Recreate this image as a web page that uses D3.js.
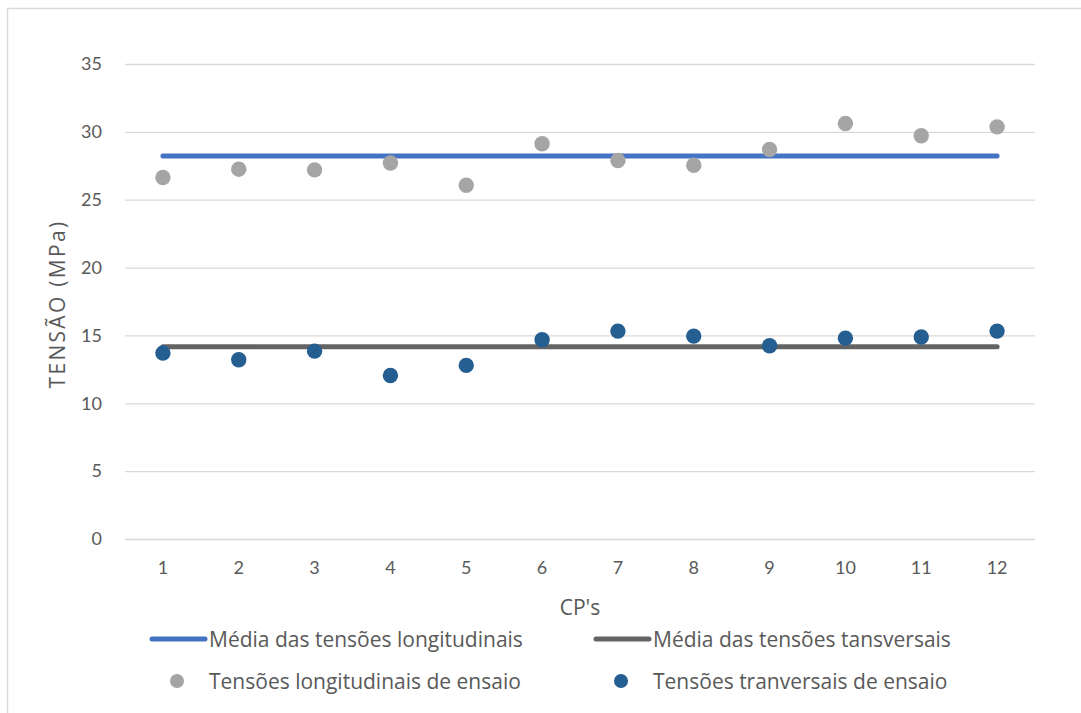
<!DOCTYPE html>
<html>
<head>
<meta charset="utf-8">
<script src="https://cdn.jsdelivr.net/npm/d3@7"></script>
<style>
  body { margin: 0; background: #fff; }
  text { font-family: "Open Sans", Lato, sans-serif; fill: #595959; }
</style>
</head>
<body>
<svg id="chart" width="1081" height="713"></svg>
<script>
// data
let cps = ['1', '2', '3', '4', '5', '6', '7', '8', '9', '10', '11', '12'];
let tensoesLongitudinais = [26.64, 27.25, 27.2, 27.71, 26.07, 29.12, 27.89, 27.54, 28.7, 30.62, 29.71, 30.37];
let tensoesTransversais = [13.7, 13.21, 13.84, 12.05, 12.79, 14.68, 15.32, 14.95, 14.24, 14.8, 14.88, 15.32];
let mediaLongitudinal = cps.map(function () { return 28.23; });
let mediaTransversal = cps.map(function () { return 14.17; });
let yTicks = [0, 5, 10, 15, 20, 25, 30, 35];

let colors = {
  mediaLong: '#4472c4',
  mediaTrans: '#646464',
  long: '#a5a5a5',
  trans: '#255e91'
};

let svg = d3.select('#chart');

// outer frame of the chart area
svg.append('rect')
  .attr('x', 7.5)
  .attr('y', 8.5)
  .attr('width', 1090)
  .attr('height', 720)
  .attr('fill', 'none')
  .attr('stroke', '#d9d9d9')
  .attr('stroke-width', 1.5);

let x = d3.scaleBand()
  .domain(cps)
  .range([125, 1035]);

let y = d3.scaleLinear()
  .domain([0, 35])
  .range([539, 64]);

let cx = function (d) { return x(d) + x.bandwidth() / 2; };

// gridlines + y labels
let yAxis = d3.axisLeft(y)
  .tickValues(yTicks)
  .tickSize(-(1035 - 125))
  .tickPadding(23);

let yG = svg.append('g')
  .attr('class', 'y-axis')
  .attr('transform', 'translate(125,0)')
  .call(yAxis);

yG.select('.domain').remove();
yG.selectAll('.tick line')
  .attr('stroke', '#d9d9d9')
  .attr('stroke-width', 1.3);
yG.selectAll('.tick text')
  .style('font-size', '18px')
  .style('font-family', 'Lato, sans-serif')
  .attr('fill', '#595959');

// x labels
let xAxis = d3.axisBottom(x)
  .tickSize(0)
  .tickPadding(22);

let xG = svg.append('g')
  .attr('class', 'x-axis')
  .attr('transform', 'translate(0,539)')
  .call(xAxis);

xG.select('.domain').remove();
xG.selectAll('.tick text')
  .style('font-size', '18px')
  .style('font-family', 'Lato, sans-serif')
  .attr('fill', '#595959');

// axis titles
svg.append('text')
  .attr('x', 580)
  .attr('y', 607)
  .attr('text-anchor', 'middle')
  .attr('dominant-baseline', 'central')
  .style('font-size', '21px')
  .text("CP's");

svg.append('text')
  .attr('transform', 'translate(57,304) rotate(-90)')
  .attr('text-anchor', 'middle')
  .attr('dominant-baseline', 'central')
  .style('font-size', '21px')
  .style('letter-spacing', '2.3px')
  .text('TENSÃO (MPa)');

// average lines
let line = function (values) {
  return d3.line()
    .x(function (d, i) { return cx(cps[i]); })
    .y(function (d) { return y(d); })(values);
};

svg.append('path')
  .attr('d', line(mediaLongitudinal))
  .attr('fill', 'none')
  .attr('stroke', colors.mediaLong)
  .attr('stroke-width', 5)
  .attr('stroke-linecap', 'round');

svg.append('path')
  .attr('d', line(mediaTransversal))
  .attr('fill', 'none')
  .attr('stroke', colors.mediaTrans)
  .attr('stroke-width', 5)
  .attr('stroke-linecap', 'round');

// points
let drawPoints = function (values, color) {
  svg.append('g')
    .selectAll('circle')
    .data(values)
    .enter()
    .append('circle')
    .attr('cx', function (d, i) { return cx(cps[i]); })
    .attr('cy', function (d) { return y(d); })
    .attr('r', 7.7)
    .attr('fill', color);
};

drawPoints(tensoesLongitudinais, colors.long);
drawPoints(tensoesTransversais, colors.trans);

// legend
let legendItems = [
  { label: 'Média das tensões longitudinais', color: colors.mediaLong, type: 'line', x: 150, y: 639 },
  { label: 'Média das tensões tansversais', color: colors.mediaTrans, type: 'line', x: 594, y: 639 },
  { label: 'Tensões longitudinais de ensaio', color: colors.long, type: 'dot', x: 150, y: 681 },
  { label: 'Tensões tranversais de ensaio', color: colors.trans, type: 'dot', x: 594, y: 681 }
];

let legend = svg.append('g').attr('class', 'legend');

legendItems.forEach(function (item) {
  let g = legend.append('g')
    .attr('transform', 'translate(' + item.x + ',' + item.y + ')');

  if (item.type === 'line') {
    g.append('line')
      .attr('x1', 2)
      .attr('x2', 55)
      .attr('stroke', item.color)
      .attr('stroke-width', 5)
      .attr('stroke-linecap', 'round');
  } else {
    g.append('circle')
      .attr('cx', 27)
      .attr('r', 7)
      .attr('fill', item.color);
  }

  g.append('text')
    .attr('x', 59)
    .attr('dominant-baseline', 'central')
    .style('font-size', '21px')
    .text(item.label);
});
</script>
</body>
</html>
